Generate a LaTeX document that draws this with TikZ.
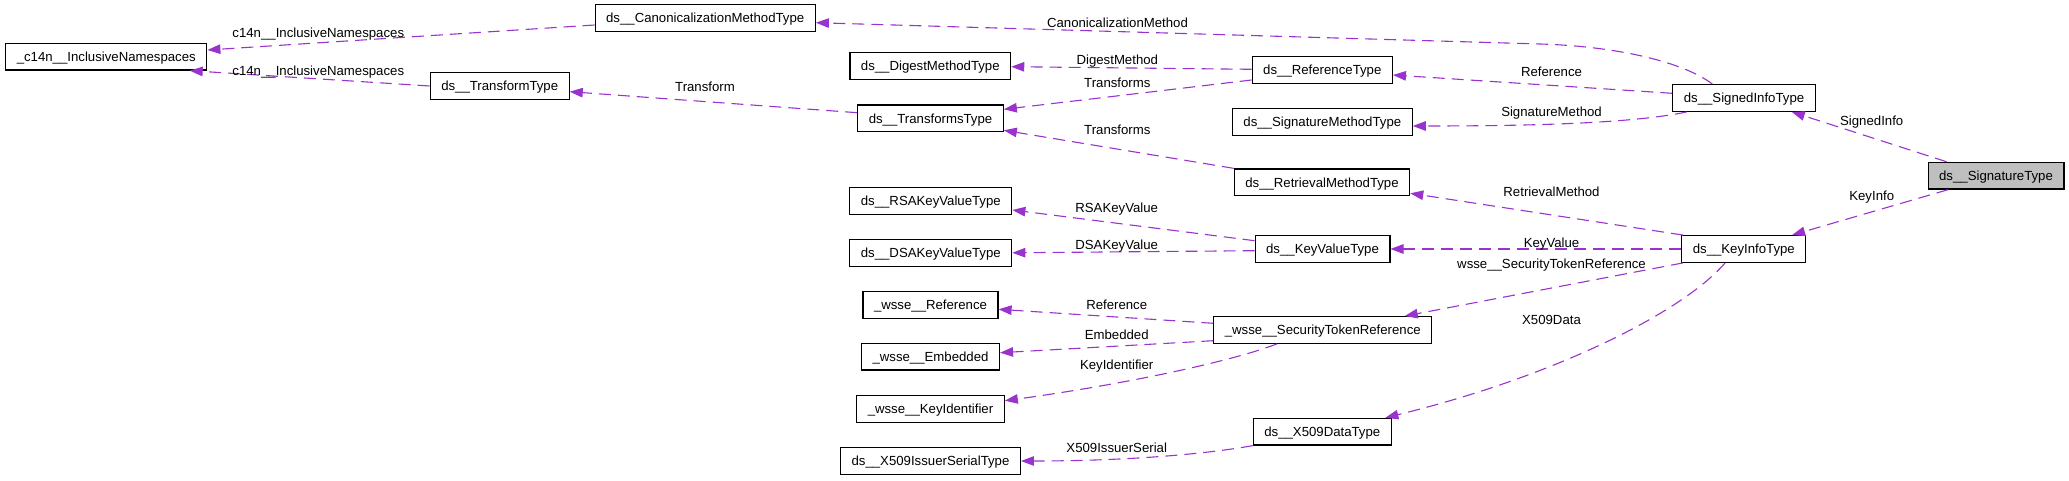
\documentclass[tikz,border=0pt]{standalone}
\usepackage{fontspec}
\setmainfont{Liberation Sans}
\usetikzlibrary{arrows.meta,calc}
\definecolor{edgec}{HTML}{9A32CD}
\definecolor{sigfill}{HTML}{BFBFBF}
\tikzset{
  box/.style={draw=black, line width=1.2pt, fill=white, minimum height=26.7pt,
    inner xsep=11pt, inner ysep=0pt, text height=9.5pt, text depth=0pt,
    font=\fontsize{13.2}{15}\selectfont},
  lbl/.style={inner sep=0pt, text height=9.5pt, text depth=0pt,
    font=\fontsize{13.2}{15}\selectfont},
  dep/.style={draw=edgec, line width=1.1pt, dash pattern=on 12pt off 7pt,
    -{Triangle[length=13pt,width=9.5pt]}}
}
\begin{document}
\begin{tikzpicture}[x=1pt,y=-1pt]
\useasboundingbox (0,0) rectangle (2069,481);
% nodes
\node[box] (c14n) at (106.3,56.7) {\_c14n\_\_InclusiveNamespaces};
\node[box] (canon) at (705.2,18.2) {ds\_\_CanonicalizationMethodType};
\node[box] (transform) at (499.7,86) {ds\_\_TransformType};
\node[box] (digest) at (930.3,65.8) {ds\_\_DigestMethodType};
\node[box] (transforms) at (930.5,118.3) {ds\_\_TransformsType};
\node[box] (reference) at (1322.3,70.2) {ds\_\_ReferenceType};
\node[box] (sigmethod) at (1322.3,122.2) {ds\_\_SignatureMethodType};
\node[box] (signedinfo) at (1744,98) {ds\_\_SignedInfoType};
\node[box,fill=sigfill] (signature) at (1996,175.7) {ds\_\_SignatureType};
\node[box] (retrieval) at (1322,182.3) {ds\_\_RetrievalMethodType};
\node[box] (rsa) at (930.8,201) {ds\_\_RSAKeyValueType};
\node[box] (dsa) at (930.8,252.8) {ds\_\_DSAKeyValueType};
\node[box] (keyvalue) at (1322.5,249) {ds\_\_KeyValueType};
\node[box] (keyinfo) at (1743.8,249) {ds\_\_KeyInfoType};
\node[box] (wref) at (930.5,305) {\_wsse\_\_Reference};
\node[box] (str) at (1322.8,330) {\_wsse\_\_SecurityTokenReference};
\node[box] (embedded) at (930.5,356.7) {\_wsse\_\_Embedded};
\node[box] (keyid) at (930.5,409) {\_wsse\_\_KeyIdentifier};
\node[box] (x509data) at (1322.3,431.7) {ds\_\_X509DataType};
\node[box] (x509is) at (930.5,461) {ds\_\_X509IssuerSerialType};
% edges
\draw[dep] ($(canon.west)+(0,6.8)$) -- ($(c14n.east)+(0,-6.7)$);
\draw[dep] (transform.west) -- ($(c14n.south east)+(-17.7,0)$);
\draw[dep] ($(signedinfo.north)+(-31.7,0)$) .. controls (1685,63) and (1620,46.35) .. (1540,44) -- ($(canon.east)+(0,4.5)$);
\draw[dep] ($(transforms.west)+(0,-5.6)$) -- ($(transform.east)+(0,5.7)$);
\draw[dep] ($(reference.west)+(0,-0.9)$) -- ($(digest.east)+(0,0.9)$);
\draw[dep] ($(reference.west)+(0,9.8)$) -- ($(transforms.east)+(0,-9)$);
\draw[dep] ($(signedinfo.west)+(0,-4.7)$) -- ($(reference.east)+(0,4.8)$);
\draw[dep] ($(signedinfo.south west)+(14.4,0)$) .. controls (1630,124) and (1520,126) .. ($(sigmethod.east)+(0,3.8)$);
\draw[dep] ($(signature.north west)+(19,0)$) -- ($(signedinfo.south east)+(-24,0)$);
\draw[dep] (retrieval.north west) -- ($(transforms.east)+(0,12)$);
\draw[dep] ($(keyinfo.north west)+(1.6,0)$) -- ($(retrieval.east)+(0,11)$);
\draw[dep] ($(signature.south west)+(20.6,0)$) -- ($(keyinfo.north east)+(-14.3,0)$);
\draw[dep] ($(keyvalue.west)+(0,-8.3)$) -- ($(rsa.east)+(0,9)$);
\draw[dep] ($(keyvalue.west)+(0,1.7)$) -- (dsa.east);
\draw[dep] (keyinfo.west) -- (keyvalue.east);
\draw[dep] ($(keyinfo.south west)+(1.6,0)$) -- ($(str.north east)+(-27.6,0)$);
\draw[dep] ($(str.west)+(0,-6.7)$) -- ($(wref.east)+(0,4.3)$);
\draw[dep] ($(str.west)+(0,10.7)$) -- ($(embedded.east)+(0,-4)$);
\draw[dep] ($(str.south)+(-46,0)$) .. controls (1230,362) and (1120,385) .. ($(keyid.east)+(0,-8.3)$);
\draw[dep] ($(keyinfo.south)+(-18.8,0)$) .. controls (1685,310) and (1560,375) .. ($(x509data.north east)+(-6.5,0)$);
\draw[dep] (x509data.south west) .. controls (1200,455) and (1120,461) .. (x509is.east);
% labels
\node[lbl] (l1) at (318.3,32.3) {c14n\_\_InclusiveNamespaces};
\node[lbl] (l2) at (318.3,71) {c14n\_\_InclusiveNamespaces};
\node[lbl] (l3) at (1117.5,22.7) {CanonicalizationMethod};
\node[lbl] (l4) at (705,86.7) {Transform};
\node[lbl] (l5) at (1117.3,59.3) {DigestMethod};
\node[lbl] (l6) at (1117.3,82.3) {Transforms};
\node[lbl] (l7) at (1551.5,71.5) {Reference};
\node[lbl] (l8) at (1551.5,111.7) {SignatureMethod};
\node[lbl] (l9) at (1871.7,120.7) {SignedInfo};
\node[lbl] (l10) at (1117.3,130) {Transforms};
\node[lbl] (l11) at (1551.5,191.7) {RetrievalMethod};
\node[lbl] (l12) at (1871.7,195.3) {KeyInfo};
\node[lbl] (l13) at (1116.7,207.7) {RSAKeyValue};
\node[lbl] (l14) at (1116.7,244.3) {DSAKeyValue};
\node[lbl] (l15) at (1551.5,242.7) {KeyValue};
\node[lbl] (l16) at (1551.5,263.3) {wsse\_\_SecurityTokenReference};
\node[lbl] (l17) at (1116.7,304.3) {Reference};
\node[lbl] (l18) at (1116.7,335) {Embedded};
\node[lbl] (l19) at (1116.7,364.7) {KeyIdentifier};
\node[lbl] (l20) at (1551.5,319.3) {X509Data};
\node[lbl] (l21) at (1116.7,447.7) {X509IssuerSerial};
\end{tikzpicture}
\end{document}
